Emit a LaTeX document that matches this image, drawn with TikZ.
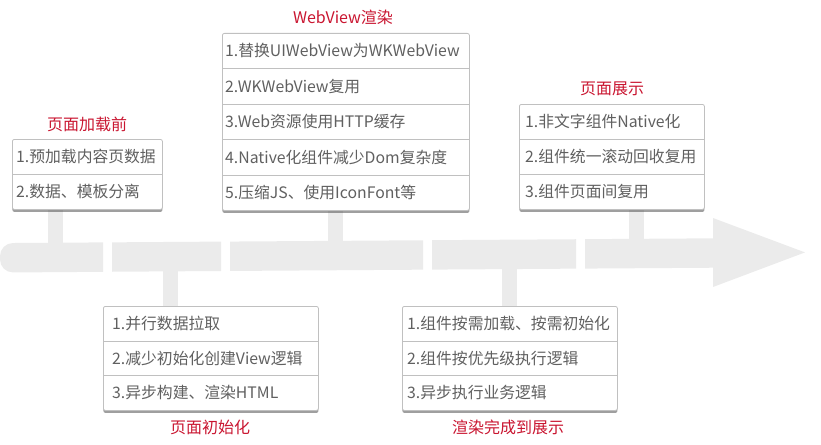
\documentclass[tikz,border=0pt]{standalone}
\usepackage{fontspec}
\setmainfont{Noto Sans CJK SC}
\usetikzlibrary{shadows,backgrounds}
\definecolor{bandgray}{RGB}{235,235,235}
\definecolor{titlered}{RGB}{201,21,48}
\definecolor{textgray}{RGB}{96,96,96}
\definecolor{bordergray}{RGB}{192,192,192}
\begin{document}
\begin{tikzpicture}[x=1pt,y=-1pt,
  band/.style={fill=bandgray},
  stem/.style={draw=bandgray, line width=15pt},
  card/.style={draw=bordergray, fill=white, rounded corners=2pt, line width=0.8pt, inner sep=0pt, anchor=north west,
    drop shadow={shadow xshift=0pt, shadow yshift=-2.5pt, opacity=0.5, fill=black!75}},
  item/.style={anchor=north west, inner ysep=0pt, text=textgray, align=left,
    font=\fontsize{15.8}{18}\selectfont},
  divider/.style={draw=bordergray, line width=0.8pt},
  title/.style={text=titlered, font=\fontsize{16}{18}\selectfont, inner sep=0pt}]
\useasboundingbox (0,0) rectangle (821,444);

% ---------- cards ----------
% box 1
\node[card, minimum width=150pt, minimum height=70pt] (b1) at (12,139) {};
\node[item, inner xsep=4pt, text width=142pt, minimum height=35pt] (b1r1) at (12,139) {1.预加载内容页数据};
\node[item, inner xsep=4pt, text width=142pt, minimum height=35pt] (b1r2) at (12,174) {2.数据、模板分离};
\draw[divider] (b1r1.south west) -- (b1r1.south east);
\node[title] (t1) at (87,124) {页面加载前};

% box 2
\node[card, minimum width=247pt, minimum height=177pt] (b2) at (222,33) {};
\node[item, inner xsep=3pt, text width=241pt, minimum height=35.4pt] (b2r1) at (222,33) {1.替换UIWebView为WKWebView};
\node[item, inner xsep=3pt, text width=241pt, minimum height=35.4pt] (b2r2) at (222,68.4) {2.WKWebView复用};
\node[item, inner xsep=3pt, text width=241pt, minimum height=35.4pt] (b2r3) at (222,103.8) {3.Web资源使用HTTP缓存};
\node[item, inner xsep=3pt, text width=241pt, minimum height=35.4pt] (b2r4) at (222,139.2) {4.Native化组件减少Dom复杂度};
\node[item, inner xsep=3pt, text width=241pt, minimum height=35.4pt] (b2r5) at (222,174.6) {5.压缩JS、使用IconFont等};
\draw[divider] (b2r1.south west) -- (b2r1.south east);
\draw[divider] (b2r2.south west) -- (b2r2.south east);
\draw[divider] (b2r3.south west) -- (b2r3.south east);
\draw[divider] (b2r4.south west) -- (b2r4.south east);
\node[title] (t2) at (343,17) {WebView渲染};

% box 3
\node[card, minimum width=185pt, minimum height=105pt] (b3) at (519,104) {};
\node[item, inner xsep=6pt, text width=173pt, minimum height=35pt] (b3r1) at (519,104) {1.非文字组件Native化};
\node[item, inner xsep=6pt, text width=173pt, minimum height=35pt] (b3r2) at (519,139) {2.组件统一滚动回收复用};
\node[item, inner xsep=6pt, text width=173pt, minimum height=35pt] (b3r3) at (519,174) {3.组件页面间复用};
\draw[divider] (b3r1.south west) -- (b3r1.south east);
\draw[divider] (b3r2.south west) -- (b3r2.south east);
\node[title] (t3) at (612,89) {页面展示};

% box 4
\node[card, minimum width=215pt, minimum height=104pt] (b4) at (103,306) {};
\node[item, inner xsep=9pt, text width=197pt, minimum height=34.7pt] (b4r1) at (103,306) {1.并行数据拉取};
\node[item, inner xsep=9pt, text width=197pt, minimum height=34.7pt] (b4r2) at (103,340.7) {2.减少初始化创建View逻辑};
\node[item, inner xsep=9pt, text width=197pt, minimum height=34.7pt] (b4r3) at (103,375.4) {3.异步构建、渲染HTML};
\draw[divider] (b4r1.south west) -- (b4r1.south east);
\draw[divider] (b4r2.south west) -- (b4r2.south east);
\node[title] (t4) at (210,427) {页面初始化};

% box 5
\node[card, minimum width=215pt, minimum height=104pt] (b5) at (402,306) {};
\node[item, inner xsep=5pt, text width=205pt, minimum height=34.7pt] (b5r1) at (402,306) {1.组件按需加载、按需初始化};
\node[item, inner xsep=5pt, text width=205pt, minimum height=34.7pt] (b5r2) at (402,340.7) {2.组件按优先级执行逻辑};
\node[item, inner xsep=5pt, text width=205pt, minimum height=34.7pt] (b5r3) at (402,375.4) {3.异步执行业务逻辑};
\draw[divider] (b5r1.south west) -- (b5r1.south east);
\draw[divider] (b5r2.south west) -- (b5r2.south east);
\node[title] (t5) at (508,427) {渲染完成到展示};

% ---------- band and stems ----------
\begin{scope}[on background layer]
  \coordinate (j1) at (55.5,250);
  \coordinate (j2) at (335.5,250);
  \coordinate (j3) at (636.5,248);
  \coordinate (k1) at (170,262);
  \coordinate (k2) at (509.5,260);
  \draw[stem] (j1 |- b1.south) -- (j1);
  \draw[stem] (j2 |- b2.south) -- (j2);
  \draw[stem] (j3 |- b3.south) -- (j3);
  \draw[stem] (k1) -- (k1 |- b4.north);
  \draw[stem] (k2) -- (k2 |- b5.north);
  \fill[band] (103,271.8) -- (103,242.4) [rounded corners=13pt] -- (0,243.1) -- (0,272.5) -- (50,272.2) [sharp corners] -- cycle;
  \fill[band] (112,242.35) -- (221,241.6) -- (221,271.0) -- (112,271.75) -- cycle;
  \fill[band] (230,241.56) -- (423,240.27) -- (423,269.67) -- (230,270.96) -- cycle;
  \fill[band] (432,240.2) -- (576,239.24) -- (576,268.64) -- (432,269.6) -- cycle;
  \fill[band] (585,239.18) -- (713,238.32) -- (713,218) -- (805,252.4) -- (713,287) -- (713,267.72) -- (585,268.58) -- cycle;
\end{scope}
\end{tikzpicture}
\end{document}
